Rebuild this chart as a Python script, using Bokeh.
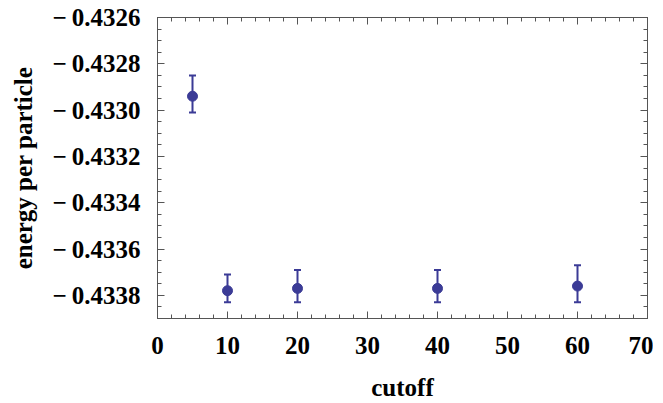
from bokeh.plotting import figure
from bokeh.models import (ColumnDataSource, Whisker, TeeHead, LinearAxis,
                          SingleIntervalTicker, CustomJSTickFormatter, Range1d,
                          CustomLabelingPolicy)
from bokeh.embed import file_html
from bokeh.resources import INLINE

cutoff = [5, 10, 20, 40, 60]
energy = [-0.43294, -0.43378, -0.43377, -0.43377, -0.43376]
energy_upper = [-0.43285, -0.43371, -0.43369, -0.43369, -0.43367]
energy_lower = [-0.43301, -0.43383, -0.43383, -0.43383, -0.43383]

x_title = "cutoff"
y_title = "energy per particle"

BLUE = "#3b3b96"
FRAME = "#555555"
FONT = "Liberation Serif"

src = ColumnDataSource(dict(x=cutoff, y=energy, up=energy_upper, lo=energy_lower))

p = figure(width=653, height=403, output_backend="svg", toolbar_location=None,
           x_range=Range1d(0, 70), y_range=Range1d(-0.4339, -0.4326),
           x_axis_type=None, y_axis_type=None,
           min_border_left=157, min_border_top=17, min_border_right=6,
           min_border_bottom=83)
p.grid.visible = False
p.outline_line_color = FRAME
p.outline_line_width = 1
p.background_fill_color = "white"
p.border_fill_color = "white"

yfmt = CustomJSTickFormatter(code="""
return (tick < 0 ? "\u2212\u2009" : "") + Math.abs(tick).toFixed(4);
""")


def style(ax, labels=True):
    ax.axis_line_color = FRAME
    ax.major_tick_line_color = FRAME
    ax.minor_tick_line_color = FRAME
    ax.major_tick_in = 7
    ax.major_tick_out = 0
    ax.minor_tick_in = 4
    ax.minor_tick_out = 0
    if labels:
        ax.major_label_text_font = FONT
        ax.major_label_text_font_style = "bold"
        ax.major_label_text_font_size = "25px"
        ax.major_label_text_color = "black"
        ax.axis_label_text_font = FONT
        ax.axis_label_text_font_style = "bold"
        ax.axis_label_text_color = "black"
    else:
        ax.major_label_policy = CustomLabelingPolicy(code="return []")
        ax.major_label_text_font_size = "0px"
        ax.major_label_standoff = 0


xb = LinearAxis(ticker=SingleIntervalTicker(interval=10, num_minor_ticks=5),
                axis_label=x_title)
style(xb)
xb.major_label_standoff = 18
xb.axis_label_text_font_size = "25px"
xb.axis_label_standoff = 17
p.add_layout(xb, "below")

yl = LinearAxis(ticker=SingleIntervalTicker(interval=0.0002, num_minor_ticks=4),
                formatter=yfmt, axis_label=y_title)
style(yl)
yl.major_label_standoff = 17
yl.axis_label_text_font_size = "25px"
yl.axis_label_standoff = 12
p.add_layout(yl, "left")

xt = LinearAxis(ticker=SingleIntervalTicker(interval=10, num_minor_ticks=5))
style(xt, labels=False)
p.add_layout(xt, "above")

yr = LinearAxis(ticker=SingleIntervalTicker(interval=0.0002, num_minor_ticks=4))
style(yr, labels=False)
p.add_layout(yr, "right")

w = Whisker(source=src, base="x", upper="up", lower="lo",
            line_color=BLUE, line_width=2,
            upper_head=TeeHead(size=7, line_color=BLUE, line_width=2),
            lower_head=TeeHead(size=7, line_color=BLUE, line_width=2))
p.add_layout(w)

p.scatter("x", "y", source=src, size=10, fill_color=BLUE, line_color=BLUE)

open("out.html", "w").write(file_html(p, INLINE))
